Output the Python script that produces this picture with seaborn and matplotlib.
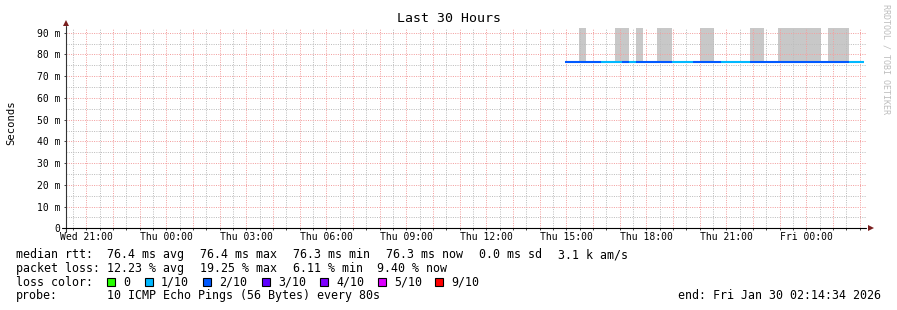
import numpy as np
import pandas as pd
import matplotlib
matplotlib.use("Agg")
import matplotlib.pyplot as plt
from matplotlib.patches import Rectangle
from matplotlib.ticker import MultipleLocator, FixedLocator, FixedFormatter
import seaborn as sns

# ---------------- data ----------------
window_start_hour = 20 + 14 / 60 + 34 / 3600   # Wed 20:14:34, hours since Wed 00:00
window_hours = 30
first_bin_hour = 38.955                         # Thu ~14:57
bin_hours = 16 / 60                             # 16-minute consolidation step

median_ms = [76.4, 76.4, 76.4, 76.4, 76.4, 76.4, 76.4, 76.4, 76.4, 76.4,
             76.4, 76.4, 76.4, 76.4, 76.4, 76.4, 76.4, 76.4, 76.4, 76.4,
             76.4, 76.4, 76.4, 76.4, 76.4, 76.4, 76.4, 76.4, 76.4, 76.4,
             76.4, 76.4, 76.4, 76.4, 76.4, 76.4, 76.4, 76.4, 76.4, 76.4,
             76.3, 76.3]
loss_tenths = [2, 2, 2, 2, 2, 1, 1, 1, 2, 1,
               2, 2, 2, 2, 2, 1, 1, 1, 2, 2,
               2, 2, 1, 1, 1, 1, 2, 2, 2, 2,
               2, 2, 2, 2, 2, 2, 2, 2, 2, 2,
               1, 1]
nan = float("nan")
smoke_max_ms = [nan, nan, 120, nan, nan, nan, nan, 120, 120, nan,
                120, nan, nan, 120, 120, nan, nan, nan, nan, 120,
                120, nan, nan, nan, nan, nan, 120, 120, nan, nan,
                120, 120, 120, 120, 120, 120, nan, 120, 120, 120,
                nan, nan]

loss_labels = ["0", "1/10", "2/10", "3/10", "4/10", "5/10", "9/10"]
loss_colors = ["#26ff00", "#00b8ff", "#0059ff", "#5e00ff", "#7e00ff", "#dd00ff", "#ff0000"]

x_tick_hours = [21, 24, 27, 30, 33, 36, 39, 42, 45, 48]
x_tick_labels = ["Wed 21:00", "Thu 00:00", "Thu 03:00", "Thu 06:00", "Thu 09:00",
                 "Thu 12:00", "Thu 15:00", "Thu 18:00", "Thu 21:00", "Fri 00:00"]
y_ticks = [0, 10, 20, 30, 40, 50, 60, 70, 80, 90]
y_tick_labels = ["0", "10 m", "20 m", "30 m", "40 m", "50 m", "60 m", "70 m", "80 m", "90 m"]

title = "Last 30 Hours"
y_label = "Seconds"
stats_rtt = ["median rtt:", "76.4 ms avg", "76.4 ms max", "76.3 ms min",
             "76.3 ms now", "0.0 ms sd", "3.1 k am/s"]
stats_loss = ["packet loss:", "12.23 % avg", "19.25 % max", "6.11 % min", "9.40 % now"]
probe_text = ["probe:", "10 ICMP Echo Pings (56 Bytes) every 80s"]
end_text = "end: Fri Jan 30 02:14:34 2026"
watermark = "RRDTOOL / TOBI OETIKER"


def loss_index(t):
    if t <= 4:
        return t
    if t <= 8:
        return 5
    return 6


n = len(median_ms)
bin_start = [first_bin_hour + i * bin_hours for i in range(n)]
rows = []
for i in range(n):
    lab = loss_labels[loss_index(loss_tenths[i])]
    rows.append(dict(t=bin_start[i], rtt=median_ms[i], loss=lab, bin=i))
    rows.append(dict(t=bin_start[i] + bin_hours, rtt=median_ms[i], loss=lab, bin=i))
df = pd.DataFrame(rows)

smoke = pd.DataFrame(dict(t=bin_start, med=median_ms, top=smoke_max_ms)).dropna()

# ---------------- figure ----------------
sns.set_theme(style="white")
plt.rcParams["font.family"] = ["DejaVu Sans Mono", "DejaVu Sans"]

W, H = 897, 310
fig = plt.figure(figsize=(W / 100, H / 100), dpi=100, facecolor="white")
ax_l, ax_r, ax_t, ax_b = 66, 866, 28, 228.3
ax = fig.add_axes([ax_l / W, 1 - ax_b / H, (ax_r - ax_l) / W, (ax_b - ax_t) / H])
ax.set_facecolor("white")

# smoke
ax.bar(smoke["t"], smoke["top"] - smoke["med"], bottom=smoke["med"], width=bin_hours,
       align="edge", color="#c8c8c8", linewidth=0, zorder=1)

# median line coloured by loss
palette = dict(zip(loss_labels, loss_colors))
sns.lineplot(data=df, x="t", y="rtt", hue="loss", units="bin", estimator=None,
             palette=palette, legend=False, linewidth=1.5, ax=ax, zorder=3,
             solid_capstyle="butt")

ax.set_xlim(window_start_hour, window_start_hour + window_hours)
ax.set_ylim(0, 92.17)

# ticks and grid
hours = list(range(21, 51))
ax.xaxis.set_major_locator(FixedLocator(hours))
ax.xaxis.set_major_formatter(FixedFormatter(
    [x_tick_labels[x_tick_hours.index(h)] if h in x_tick_hours else "" for h in hours]))
ax.xaxis.set_minor_locator(MultipleLocator(0.5))
ax.yaxis.set_major_locator(FixedLocator(y_ticks))
ax.yaxis.set_major_formatter(FixedFormatter(y_tick_labels))
ax.yaxis.set_minor_locator(MultipleLocator(5))

ax.grid(which="minor", color="#bdbdbd", linestyle=(0, (1, 1.3)), linewidth=0.72)
ax.grid(which="major", color="#f3a0a0", linestyle=(0, (1, 1.3)), linewidth=0.72)
ax.set_axisbelow(False)

ax.tick_params(axis="x", which="both", length=1.5, width=0.7, color="#444444",
               pad=1.0, labelsize=7, labelcolor="black", bottom=True)
ax.tick_params(axis="y", which="major", length=1.5, width=0.7, color="#444444",
               pad=2.8, labelsize=7, labelcolor="black", left=True)
ax.tick_params(axis="y", which="minor", length=0)
ax.set_xlabel("")
ax.set_ylabel("")
for s in ax.spines.values():
    s.set_visible(False)

# axis lines with arrows
ax.plot([0, 0], [-0.02, 1.01], transform=ax.transAxes, color="#333333", lw=0.8,
        clip_on=False, zorder=5)
ax.plot([-0.005, 1.0], [0, 0], transform=ax.transAxes, color="black", lw=0.8,
        clip_on=False, zorder=5)
ax.plot([0], [1.025], marker="^", ms=4, color="#7a1f1f", transform=ax.transAxes,
        clip_on=False, zorder=6, markeredgewidth=0)
ax.plot([1.006], [0], marker=">", ms=4, color="#7a1f1f", transform=ax.transAxes,
        clip_on=False, zorder=6, markeredgewidth=0)


def fx(px):
    return px / W


def fy(py):
    return 1 - py / H


fig.text(0.5, fy(19), title, ha="center", va="center", fontsize=9.5, color="black")
fig.text(fx(11), fy(122.5), y_label, ha="center", va="center", rotation=90,
         fontsize=7.6, color="black")
fig.text(fx(886), fy(59), watermark, ha="center", va="center", rotation=270,
         fontsize=6.0, color="#bdbdbd")

# legend / statistics rows
fs = 8.4
row_y = [254.5, 268.3, 282.0, 295.8]
rtt_x = [16, 107, 200, 293, 386, 479, 558]
for x, s in zip(rtt_x, stats_rtt):
    fig.text(fx(x), fy(row_y[0]), s, ha="left", va="center", fontsize=fs, color="black")
loss_x = [16, 107, 200, 293, 377]
for x, s in zip(loss_x, stats_loss):
    fig.text(fx(x), fy(row_y[1]), s, ha="left", va="center", fontsize=fs, color="black")

fig.text(fx(16), fy(row_y[2]), "loss color:", ha="left", va="center", fontsize=fs, color="black")
sq_x = [107, 145, 203, 262, 320, 378, 435]
sq = 8
for x, lab, col in zip(sq_x, loss_labels, loss_colors):
    fig.add_artist(Rectangle((fx(x), fy(row_y[2] + sq / 2 - 0.5)), sq / W, sq / H,
                             transform=fig.transFigure, facecolor=col,
                             edgecolor="black", linewidth=0.8))
    fig.text(fx(x + 16), fy(row_y[2]), lab, ha="left", va="center", fontsize=fs, color="black")

fig.text(fx(16), fy(row_y[3]), probe_text[0], ha="left", va="center", fontsize=fs, color="black")
fig.text(fx(107), fy(row_y[3]), probe_text[1], ha="left", va="center", fontsize=fs, color="black")
fig.text(fx(881), fy(row_y[3]), end_text, ha="right", va="center", fontsize=fs, color="black")

fig.savefig("out.png", dpi=100, facecolor="white")
